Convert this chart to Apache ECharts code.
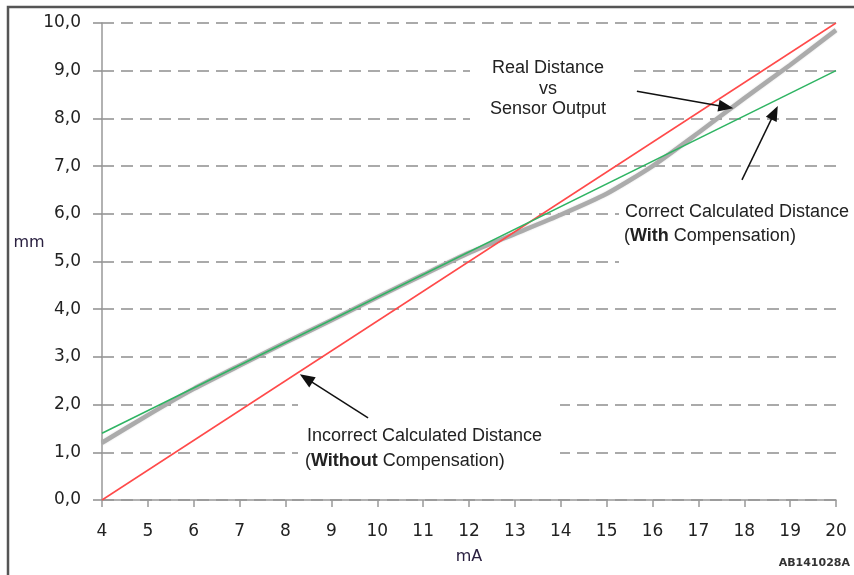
<!DOCTYPE html>
<html>
<head>
<meta charset="utf-8">
<script src="https://cdn.jsdelivr.net/npm/echarts@6/dist/echarts.min.js"></script>
<style>html,body{margin:0;padding:0;background:#fff;}#c{width:854px;height:575px;}</style>
</head>
<body>
<div id="c"></div>
<script>
// mA values and mm values
var sensorX = [4, 5, 6, 7, 8, 9, 10, 11, 12, 13, 14, 15, 16, 17, 18, 19, 20];
var sensorY = [1.2, 1.78, 2.33, 2.82, 3.3, 3.77, 4.25, 4.72, 5.18, 5.58, 5.98, 6.42, 7.0, 7.7, 8.42, 9.12, 9.85];
var incorrectX = [4, 20];
var incorrectY = [0, 10];
var correctX = [4, 20];
var correctY = [1.4, 9.0];
// arrows: [startX, startY, endX, endY] in data units
var arrows = [
  [15.66, 8.57, 17.6, 8.24],
  [17.95, 6.71, 18.66, 8.12],
  [9.80, 1.72, 8.45, 2.55]
];

function pairs(xs, ys) { return xs.map(function (x, i) { return [x, ys[i]]; }); }

var chart = echarts.init(document.getElementById('c'));
var gray = '#8f8f8f';
var txt = '#222';
var annoFont = 'Liberation Sans, Arial, sans-serif';

chart.setOption({
  animation: false,
  grid: { left: 102, right: 18, top: 23, bottom: 75, containLabel: false, outerBoundsMode: 'none' },
  xAxis: {
    type: 'value', min: 4, max: 20, interval: 1,
    name: 'mA', nameLocation: 'middle', nameGap: 49, nameMoveOverlap: false,
    nameTextStyle: { fontFamily: 'DejaVu Sans', fontSize: 16, color: '#2a2040' },
    axisLine: { lineStyle: { color: '#999', width: 1.5 } },
    axisTick: { length: 7, lineStyle: { color: '#999', width: 1.5 } },
    axisLabel: { fontFamily: 'DejaVu Sans', fontSize: 17, color: txt, margin: 23 },
    splitLine: { show: false }
  },
  yAxis: {
    type: 'value', min: 0, max: 10, interval: 1,
    axisLine: { show: true, lineStyle: { color: '#999', width: 1.5 } },
    axisTick: { show: true, length: 9, lineStyle: { color: gray, width: 1.5 } },
    axisLabel: {
      fontFamily: 'DejaVu Sans', fontSize: 17, color: txt, margin: 21,
      formatter: function (v) { return v.toFixed(1).replace('.', ','); }
    },
    splitLine: { show: true, lineStyle: { color: gray, width: 1.5, type: [12, 7] } }
  },
  series: [
    {
      type: 'line', data: pairs(sensorX, sensorY), smooth: 0.2, symbol: 'none', z: 2,
      lineStyle: { color: '#ababab', width: 4.5, shadowColor: 'rgba(0,0,0,0.15)', shadowBlur: 2 }
    },
    {
      type: 'line', data: pairs(incorrectX, incorrectY), symbol: 'none', z: 3,
      lineStyle: { color: '#ff4a4a', width: 1.5 }
    },
    {
      type: 'line', data: pairs(correctX, correctY), symbol: 'none', z: 4,
      lineStyle: { color: '#2fb463', width: 1.5 },
      markLine: {
        silent: true, animation: false,
        symbol: ['none', 'triangle'], symbolSize: [12, 15],
        label: { show: false },
        lineStyle: { color: '#111', width: 1.5, type: 'solid' },
        data: arrows.map(function (a) {
          return [{ coord: [a[0], a[1]] }, { coord: [a[2], a[3]] }];
        })
      }
    }
  ],
  graphic: [
    { type: 'rect', z: 1, shape: { x: 470, y: 56, width: 164, height: 66 }, style: { fill: '#fff' } },
    { type: 'rect', z: 1, shape: { x: 619, y: 198, width: 235, height: 68 }, style: { fill: '#fff' } },
    { type: 'rect', z: 1, shape: { x: 298, y: 398, width: 262, height: 72 }, style: { fill: '#fff' } },
    { type: 'text', z: 11, x: 29, y: 243, style: { text: 'mm', align: 'center', verticalAlign: 'middle', font: '16px DejaVu Sans', fill: '#2a2040' } },
    { type: 'text', z: 11, x: 548, y: 89, style: { text: 'Real Distance\nvs\nSensor Output', align: 'center', verticalAlign: 'middle', font: '18px ' + annoFont, lineHeight: 20.5, fill: txt } },
    { type: 'text', z: 11, x: 625, y: 212, style: { text: 'Correct Calculated Distance', verticalAlign: 'middle', font: '18px ' + annoFont, fill: txt } },
    { type: 'text', z: 11, x: 624, y: 236, style: { text: '({b|With} Compensation)', verticalAlign: 'middle', font: '18px ' + annoFont, fill: txt, rich: { b: { fontWeight: 'bold', fontSize: 18, fontFamily: annoFont, fill: txt } } } },
    { type: 'text', z: 11, x: 307, y: 436, style: { text: 'Incorrect Calculated Distance', verticalAlign: 'middle', font: '18px ' + annoFont, fill: txt } },
    { type: 'text', z: 11, x: 305, y: 461, style: { text: '({b|Without} Compensation)', verticalAlign: 'middle', font: '18px ' + annoFont, fill: txt, rich: { b: { fontWeight: 'bold', fontSize: 18, fontFamily: annoFont, fill: txt } } } },
    { type: 'text', z: 11, x: 850, y: 563, style: { text: 'AB141028A', align: 'right', verticalAlign: 'middle', font: 'bold 11px DejaVu Sans', fill: '#333' } },
    { type: 'rect', z: 12, shape: { x: 8, y: 7, width: 900, height: 620 }, style: { fill: 'none', stroke: '#555', lineWidth: 2.5 } }
  ]
});
</script>
</body>
</html>
